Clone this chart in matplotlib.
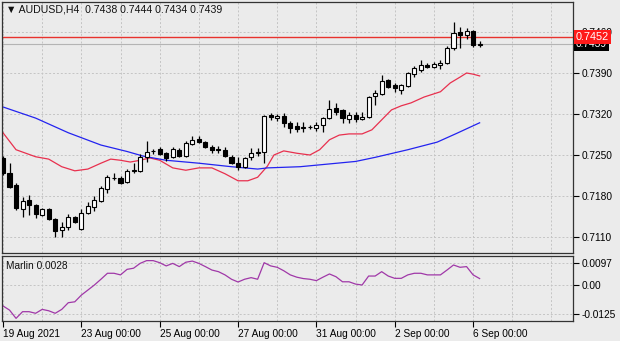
import matplotlib
matplotlib.use('Agg')
import matplotlib.pyplot as plt
import matplotlib.transforms as mtransforms
import numpy as np

plt.rcParams['font.family'] = ['Liberation Sans', 'DejaVu Sans']

# ---------------- data ----------------
opens = [0.7245, 0.7219, 0.7199, 0.7158, 0.7173, 0.7165, 0.7148, 0.7158, 0.7141, 0.7122,
         0.7127, 0.7144, 0.7124, 0.7151, 0.7161, 0.7171, 0.7192, 0.7211, 0.7211, 0.7204,
         0.7223, 0.7223, 0.7247, 0.7257, 0.7260, 0.7253, 0.7247, 0.7259, 0.7248, 0.7269,
         0.7277, 0.7272, 0.7264, 0.7260, 0.7259, 0.7247, 0.7236, 0.7230, 0.7247, 0.7253,
         0.7255, 0.7318, 0.7313, 0.7317, 0.7305, 0.7300, 0.7296, 0.7298, 0.7296, 0.7301,
         0.7313, 0.7330, 0.7327, 0.7311, 0.7318, 0.7311, 0.7315, 0.7351, 0.7354, 0.7378,
         0.7370, 0.7361, 0.7368, 0.7388, 0.7395, 0.7404, 0.7400, 0.7404, 0.7407, 0.7433,
         0.7460, 0.7455, 0.7462, 0.7438]
highs = [0.7248, 0.7236, 0.7202, 0.7178, 0.7182, 0.7166, 0.7160, 0.7160, 0.7142, 0.7136,
         0.7149, 0.7146, 0.7158, 0.7170, 0.7180, 0.7197, 0.7216, 0.7219, 0.7214, 0.7226,
         0.7236, 0.7252, 0.7274, 0.7260, 0.7264, 0.7255, 0.7264, 0.7262, 0.7274, 0.7282,
         0.7282, 0.7274, 0.7267, 0.7265, 0.7264, 0.7250, 0.7247, 0.7247, 0.7262, 0.7262,
         0.7318, 0.7322, 0.7320, 0.7322, 0.7308, 0.7306, 0.7306, 0.7301, 0.7306, 0.7315,
         0.7344, 0.7339, 0.7329, 0.7323, 0.7323, 0.7323, 0.7351, 0.7361, 0.7387, 0.7380,
         0.7373, 0.7371, 0.7392, 0.7402, 0.7412, 0.7407, 0.7409, 0.7412, 0.7436, 0.7477,
         0.7468, 0.7467, 0.7463, 0.7444]
lows = [0.7216, 0.7194, 0.7156, 0.7144, 0.7148, 0.7142, 0.7146, 0.7139, 0.7110, 0.7110,
        0.7122, 0.7134, 0.7122, 0.7149, 0.7154, 0.7170, 0.7185, 0.7207, 0.7200, 0.7202,
        0.7219, 0.7221, 0.7238, 0.7252, 0.7250, 0.7240, 0.7245, 0.7247, 0.7247, 0.7267,
        0.7270, 0.7262, 0.7253, 0.7253, 0.7247, 0.7235, 0.7224, 0.7228, 0.7241, 0.7248,
        0.7236, 0.7310, 0.7308, 0.7298, 0.7288, 0.7289, 0.7289, 0.7294, 0.7291, 0.7289,
        0.7311, 0.7318, 0.7305, 0.7305, 0.7306, 0.7310, 0.7313, 0.7335, 0.7352, 0.7364,
        0.7358, 0.7354, 0.7366, 0.7383, 0.7392, 0.7399, 0.7399, 0.7397, 0.7405, 0.7429,
        0.7433, 0.7448, 0.7434, 0.7434]
closes = [0.7219, 0.7195, 0.7160, 0.7171, 0.7165, 0.7149, 0.7158, 0.7141, 0.7120, 0.7127,
          0.7144, 0.7136, 0.7151, 0.7163, 0.7173, 0.7194, 0.7212, 0.7210, 0.7202, 0.7223,
          0.7224, 0.7247, 0.7255, 0.7256, 0.7252, 0.7245, 0.7260, 0.7248, 0.7270, 0.7276,
          0.7272, 0.7264, 0.7259, 0.7259, 0.7248, 0.7236, 0.7230, 0.7245, 0.7253, 0.7255,
          0.7317, 0.7315, 0.7317, 0.7305, 0.7296, 0.7294, 0.7297, 0.7297, 0.7301, 0.7313,
          0.7329, 0.7323, 0.7313, 0.7318, 0.7311, 0.7315, 0.7349, 0.7356, 0.7376, 0.7366,
          0.7364, 0.7370, 0.7390, 0.7399, 0.7404, 0.7400, 0.7405, 0.7407, 0.7433, 0.7458,
          0.7455, 0.7462, 0.7437, 0.7439]

ma_fast_idx = [0, 2, 5, 7, 9, 11, 13, 15, 16.5, 18, 19.5, 21, 22.5, 24, 26, 28, 30, 32, 34, 36,
               37.5, 39, 40.5, 41.5, 43, 45, 47, 48.5, 50, 51.5, 53, 55, 56.5, 58, 59.5, 61,
               62.5, 64.5, 67, 68.5, 70, 71, 72, 73]
ma_fast = [0.7288, 0.7259, 0.7247, 0.7243, 0.7230, 0.7223, 0.7226, 0.7236, 0.7243, 0.7241,
           0.7238, 0.7241, 0.7245, 0.7241, 0.7228, 0.7224, 0.7228, 0.7228, 0.7218, 0.7206,
           0.7206, 0.7212, 0.7231, 0.7250, 0.7257, 0.7253, 0.7250, 0.7259, 0.7276, 0.7284,
           0.7286, 0.7286, 0.7293, 0.7310, 0.7327, 0.7334, 0.7339, 0.7349, 0.7358, 0.7373,
           0.7383, 0.7390, 0.7388, 0.7385]

ma_slow_idx = [0, 5, 10, 15, 19, 21.5, 25, 30, 35, 39, 40.5, 45.5, 54, 57, 62, 66.5, 69.5, 73]
ma_slow = [0.7332, 0.7313, 0.7288, 0.7267, 0.7256, 0.7248, 0.7241, 0.7236, 0.7230, 0.7226,
           0.7228, 0.7230, 0.7239, 0.7246, 0.7259, 0.7272, 0.7287, 0.7305]

marlin = [-0.0091, -0.0109, -0.0145, -0.0116, -0.0116, -0.0123, -0.0106, -0.0112, -0.0123, -0.0106,
          -0.0077, -0.0073, -0.0044, -0.0022, 0.0000, 0.0025, 0.0051, 0.0051, 0.0044, 0.0068,
          0.0073, 0.0094, 0.0106, 0.0106, 0.0097, 0.0083, 0.0094, 0.0080, 0.0099, 0.0104,
          0.0094, 0.0080, 0.0065, 0.0058, 0.0044, 0.0025, 0.0013, 0.0025, 0.0032, 0.0025,
          0.0097, 0.0083, 0.0077, 0.0062, 0.0044, 0.0034, 0.0028, 0.0025, 0.0019, 0.0034,
          0.0048, 0.0036, 0.0014, 0.0014, 0.0004, 0.0000, 0.0039, 0.0039, 0.0058, 0.0039,
          0.0029, 0.0029, 0.0044, 0.0051, 0.0051, 0.0044, 0.0044, 0.0044, 0.0065, 0.0087,
          0.0077, 0.0080, 0.0044, 0.0028]

level_price = 0.7452
bid_price = 0.7439
price_ticks = [0.7110, 0.7180, 0.7250, 0.7320, 0.7390, 0.7460]
price_tick_labels = ['0.7110', '0.7180', '0.7250', '0.7320', '0.7390', '0.7460']
marlin_ticks = [-0.0125, 0.0, 0.0097]
marlin_tick_labels = ['-0.0125', '0.00', '0.0097']
date_tick_idx = [0, 12, 24, 36, 48, 60, 72]
date_tick_labels = ['19 Aug 2021', '23 Aug 00:00', '25 Aug 00:00', '27 Aug 00:00',
                    '31 Aug 00:00', '2 Sep 00:00', '6 Sep 00:00']
grid_idx = list(range(0, 88, 6))
title_text = '\u25bc AUDUSD,H4  0.7438 0.7444 0.7434 0.7439'
marlin_text = 'Marlin 0.0028'

# ---------------- style ----------------
BG = '#ebebeb'
GRID = '#c4c4c4'
FS = 7.3
W, H = 620, 341

fig = plt.figure(figsize=(W / 100, H / 100), dpi=100, facecolor=BG)
ax = fig.add_axes([2 / W, 1 - 253 / H, 571 / W, 251 / H], facecolor=BG)
ax2 = fig.add_axes([2 / W, 1 - 321 / H, 571 / W, 65 / H], facecolor=BG)

x = np.arange(len(opens))
o = np.array(opens); c = np.array(closes)
hi = np.array(highs); lo = np.array(lows)
up = c >= o

ax.vlines(x, lo, hi, color='black', linewidth=0.9, zorder=3)
ax.bar(x, np.abs(c - o), bottom=np.minimum(o, c), width=0.62,
       color=np.where(up, 'white', 'black'), edgecolor='black', linewidth=0.8, zorder=4)

ax.plot(ma_fast_idx, ma_fast, color='#e8304e', linewidth=0.9, zorder=2)
ax.plot(ma_slow_idx, ma_slow, color='#2323f0', linewidth=0.9, zorder=2)
ax.axhline(level_price, color='#e8322d', linewidth=1.0, zorder=2)
ax.axhline(bid_price, color='#b4b4b4', linewidth=0.8, zorder=1)

ax.set_xlim(-0.15, 87.3)
ax.set_ylim(0.70827, 0.75112)
ax.set_xticks(grid_idx)
ax.tick_params(axis='x', length=0, labelbottom=False)
ax.yaxis.tick_right()
ax.set_yticks(price_ticks, price_tick_labels)
ax.tick_params(axis='y', direction='out', length=4, width=0.8, pad=2, labelsize=FS,
               colors='black')
ax.grid(True, color=GRID, linestyle=(0, (2, 2)), linewidth=0.7, zorder=0)
ax.set_axisbelow(True)
for s in ax.spines.values():
    s.set_color('#333333'); s.set_linewidth(0.9)

# price labels on the axis
trans = mtransforms.blended_transform_factory(ax.transAxes, ax.transData)
ax.text(1.005, bid_price, '0.7439', transform=trans, fontsize=FS, color='white',
        va='center', ha='left', clip_on=False, zorder=10,
        bbox=dict(boxstyle='square,pad=0.18', facecolor='black', edgecolor='none'))
ax.text(1.005, level_price, '0.7452', transform=trans, fontsize=FS + 0.5, color='white',
        va='center', ha='left', clip_on=False, zorder=11,
        bbox=dict(boxstyle='square,pad=0.18', facecolor='#ff1a1a', edgecolor='none'))

# Marlin subwindow
ax2.plot(x, marlin, color='#a038a8', linewidth=0.9)
ax2.set_xlim(-0.15, 87.3)
ax2.set_ylim(-0.01565, 0.01261)
ax2.yaxis.tick_right()
ax2.set_yticks(marlin_ticks, marlin_tick_labels)
ax2.tick_params(axis='y', direction='out', length=4, width=0.8, pad=2, labelsize=FS)
ax2.set_xticks(grid_idx, minor=True)
ax2.set_xticks(date_tick_idx, date_tick_labels)
ax2.tick_params(axis='x', which='major', direction='out', length=4, width=0.8, pad=2,
                labelsize=FS)
ax2.tick_params(axis='x', which='minor', length=0)
for lbl in ax2.get_xticklabels():
    lbl.set_horizontalalignment('left')
ax2.grid(True, which='both', color=GRID, linestyle=(0, (2, 2)), linewidth=0.7)
ax2.set_axisbelow(True)
for s in ax2.spines.values():
    s.set_color('#333333'); s.set_linewidth(0.9)

fig.text(6 / W, 1 - 10 / H, title_text, fontsize=FS + 0.3, va='center', ha='left',
         color='#111111')
fig.text(6 / W, 1 - 266 / H, marlin_text, fontsize=FS, va='center', ha='left',
         color='#111111')

fig.savefig('out.png', dpi=100, facecolor=BG)
